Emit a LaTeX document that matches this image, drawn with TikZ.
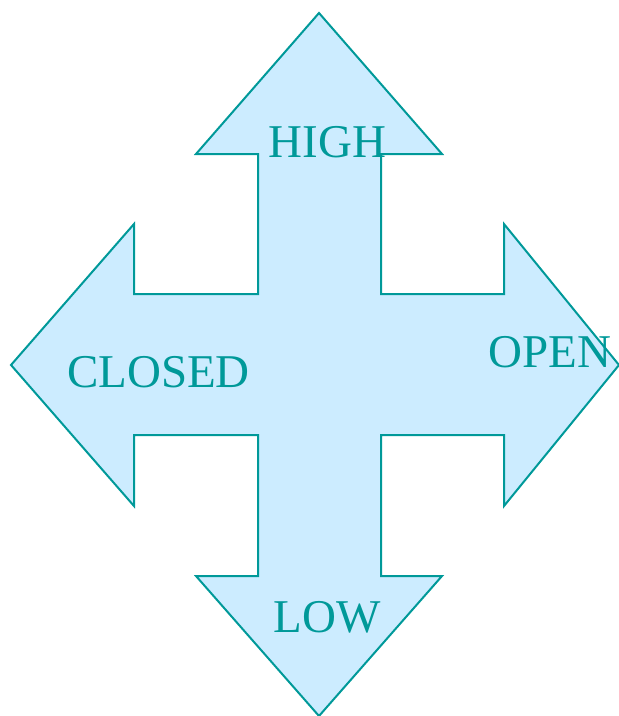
\documentclass[tikz,border=0pt]{standalone}
\usepackage{fontspec}
\setmainfont{Liberation Serif}
\definecolor{teal1}{RGB}{0,153,153}
\definecolor{fillblue}{RGB}{204,236,255}
\tikzset{
  arrowshape/.style={draw=teal1, fill=fillblue, line width=2pt, line join=miter},
  lbl/.style={text=teal1, font=\fontsize{47}{47}\selectfont, inner sep=0pt, anchor=base}
}
\begin{document}
\begin{tikzpicture}[x=1pt,y=-1pt]
\useasboundingbox (0,0) rectangle (619,716);
\draw[arrowshape] (319,13) -- (442,154) -- (381,154) -- (381,294) -- (504,294) -- (504,224)
  -- (619,365) -- (504,506) -- (504,435) -- (381,435) -- (381,576) -- (442,576)
  -- (319,716) -- (196,576) -- (258,576) -- (258,435) -- (134,435) -- (134,506)
  -- (11,365) -- (134,224) -- (134,294) -- (258,294) -- (258,154) -- (196,154) -- cycle;
\node[lbl] (high) at (327.5,157) {HIGH};
\node[lbl] (closed) at (158.5,387) {CLOSED};
\node[lbl] (open) at (550,367) {OPEN};
\node[lbl] (low) at (327.5,632) {LOW};
\end{tikzpicture}
\end{document}
